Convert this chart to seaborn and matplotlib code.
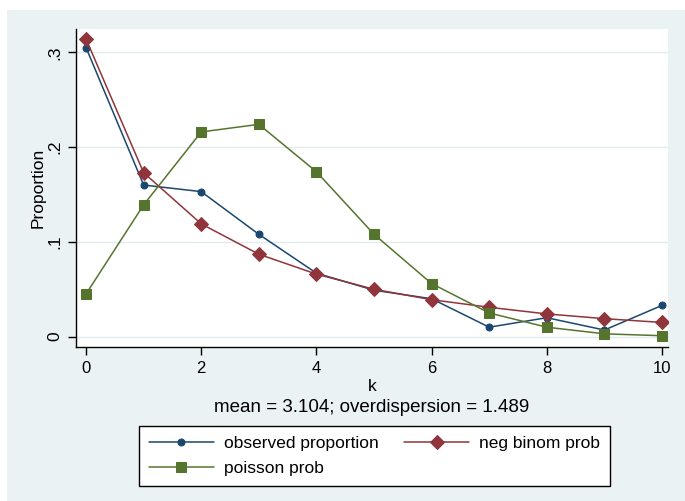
import numpy as np
import pandas as pd
import matplotlib
matplotlib.use("Agg")
import matplotlib.pyplot as plt
from matplotlib.patches import Rectangle
import seaborn as sns

# Valores
k = [0, 1, 2, 3, 4, 5, 6, 7, 8, 9, 10]
observed = [0.305, 0.160, 0.153, 0.108, 0.067, 0.049, 0.040, 0.010, 0.020, 0.007, 0.033]
neg_binom = [0.314, 0.173, 0.119, 0.087, 0.066, 0.050, 0.039, 0.031, 0.024, 0.019, 0.015]
poisson = [0.045, 0.139, 0.216, 0.224, 0.174, 0.108, 0.056, 0.025, 0.010, 0.003, 0.001]
y_ticks = [0, 0.1, 0.2, 0.3]
y_tick_labels = ["0", ".1", ".2", ".3"]
x_ticks = [0, 2, 4, 6, 8, 10]
subtitle = "mean = 3.104; overdispersion = 1.489"

sns.set_style("white")
plt.rcParams["font.family"] = ["Liberation Sans", "DejaVu Sans"]
plt.rcParams["text.color"] = "black"
plt.rcParams["axes.labelcolor"] = "black"
plt.rcParams["xtick.color"] = "black"
plt.rcParams["ytick.color"] = "black"

navy = "#1a476f"
maroon = "#90353b"
green = "#55752f"
bg = "#eaf2f3"

df = pd.DataFrame({"k": k, "observed": observed, "neg_binom": neg_binom, "poisson": poisson})

fig = plt.figure(figsize=(6.85, 5.01), dpi=100)
fig.patch.set_facecolor("white")
fig.patches.append(Rectangle((7 / 685, 0), 1 - 7 / 685, (501 - 10) / 501,
                             transform=fig.transFigure, facecolor=bg, edgecolor="none", zorder=-10))

ax = fig.add_axes([76 / 685, (501 - 347) / 501, (668 - 76) / 685, (347 - 29) / 501])
ax.set_facecolor("white")

sns.lineplot(data=df, x="k", y="observed", ax=ax, color=navy, marker="o", markersize=5,
             markeredgecolor=navy, linewidth=1.1, label="observed proportion", zorder=3)
sns.lineplot(data=df, x="k", y="neg_binom", ax=ax, color=maroon, marker="D", markersize=7.5,
             markeredgecolor=maroon, linewidth=1.1, label="neg binom prob", zorder=3)
sns.lineplot(data=df, x="k", y="poisson", ax=ax, color=green, marker="s", markersize=7,
             markeredgecolor=green, linewidth=1.1, label="poisson prob", zorder=3)

ax.set_xlim(-0.174, 10.104)
ax.set_ylim(-0.0109, 0.3246)
ax.set_yticks(y_ticks)
ax.set_yticklabels(y_tick_labels, rotation=90, va="center", fontsize=12.5)
ax.set_xticks(x_ticks)
ax.set_xticklabels([str(v) for v in x_ticks], fontsize=12)
ax.tick_params(axis="both", direction="out", length=6, width=1, color="black", pad=4, left=True, bottom=True)

for y in y_ticks:
    ax.axhline(y, color="#e2ebed", linewidth=1, zorder=1)

for s in ["top", "right"]:
    ax.spines[s].set_visible(False)
for s in ["left", "bottom"]:
    ax.spines[s].set_color("black")
    ax.spines[s].set_linewidth(1)

ax.set_xlabel("k", fontsize=12.5, labelpad=2)
ax.set_ylabel("Proportion", fontsize=12.5, labelpad=1)

fig.text(372 / 685, 1 - 408 / 501, subtitle, ha="center", va="center", fontsize=13.5)

handles, labels = ax.get_legend_handles_labels()
ax.get_legend().remove()
order = [0, 2, 1]
leg = fig.legend([handles[i] for i in order], [labels[i] for i in order],
                 ncol=2, loc="center", bbox_to_anchor=(374.5 / 685, 1 - 456 / 501),
                 frameon=True, fancybox=False, edgecolor="black", facecolor="white", framealpha=1,
                 fontsize=12.5, handlelength=3.75, handletextpad=0.6, columnspacing=1.45,
                 borderpad=0.55, labelspacing=0.58)
leg.get_frame().set_linewidth(1)

fig.savefig("out.png", dpi=100)
